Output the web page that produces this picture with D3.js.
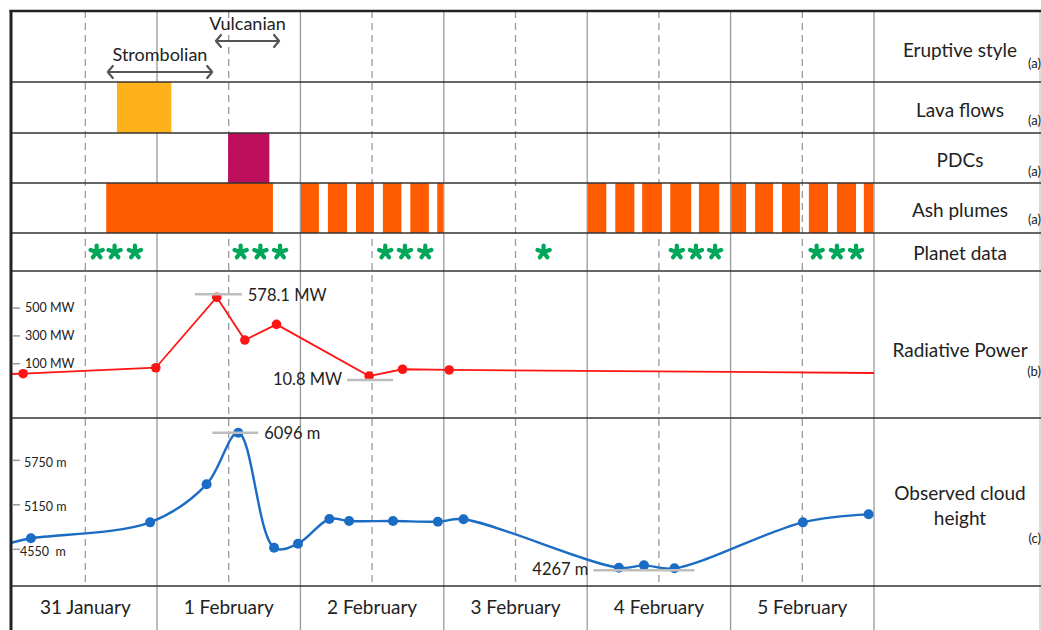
<!DOCTYPE html>
<html>
<head>
<meta charset="utf-8">
<script src="https://cdn.jsdelivr.net/npm/d3@7/dist/d3.min.js"></script>
<style>
  html, body { margin: 0; padding: 0; background: #fff; }
  svg { display: block; }
  text { font-family: Lato, "Open Sans", sans-serif; fill: #222; }
</style>
</head>
<body>
<svg id="chart" width="1041" height="630"></svg>
<script>
// ---- data (hours counted from 31 January 00:00) ----
const days = ["31 January", "1 February", "2 February", "3 February", "4 February", "5 February"];

const styleNames = ["Strombolian", "Vulcanian"];
const styleStart = [15.6, 33.7];
const styleEnd   = [33.4, 44.6];

const lavaStart = [17.3];
const lavaEnd   = [26.4];

const pdcStart = [35.9];
const pdcEnd   = [42.8];

const ashStart = [15.5, 48.1, 52.6, 57.3, 61.8, 66.4, 70.9, 96.1, 100.7, 105.2, 109.9, 114.7, 120.1, 124.1, 128.6, 133.1, 137.8, 142.3];
const ashEnd   = [43.4, 51.1, 55.8, 60.3, 64.9, 69.5, 71.9, 99.2, 103.9, 108.5, 113.4, 118.1, 122.6, 127.1, 131.6, 136.3, 141.0, 143.9];

const planetHours = [13.9, 16.9, 20.3, 38.0, 41.3, 44.6, 62.2, 65.5, 68.9, 88.7, 111.0, 114.2, 117.4, 134.4, 137.8, 141.0];

// Radiative power (MW); first and last entries only carry the trend line
const rpHours  = [-0.4, 1.6, 23.8, 34.0, 38.7, 44.0, 59.5, 65.1, 72.9, 144];
const rpValues = [26, 28, 71, 578.1, 270, 383, 10.8, 60, 55, 33];
const rpSample = [false, true, true, true, true, true, true, true, true, false];
const rpTicks  = [500, 300, 100];

// Observed cloud height (m); first entry only carries the trend line
const chHours  = [-0.4, 2.9, 22.85, 32.3, 37.6, 43.6, 47.6, 52.85, 56.15, 63.5, 71.0, 75.3, 101.3, 105.5, 110.6, 132.1, 143.1];
const chValues = [4612, 4672, 4887, 5400, 6096, 4545, 4599, 4932, 4905, 4905, 4896, 4928, 4275, 4307, 4267, 4887, 4995];
const chSample = [false, true, true, true, true, true, true, true, true, true, true, true, true, true, true, true, true];
const chTicks  = [5750, 5150, 4550];

const rowLabels = ["Eruptive style", "Lava flows", "PDCs", "Ash plumes", "Planet data", "Radiative Power", "Observed cloud|height"];
const rowRefs   = ["(a)", "(a)", "(a)", "(a)", "", "(b)", "(c)"];

// ---- layout ----
const W = 1041, H = 630;
const frameLeft = 11, frameTop = 11;
const plotRight = 874;
const rows = [11, 82, 133, 183, 233, 271, 418, 586]; // row boundaries
const svg = d3.select("#chart");

const x = d3.scaleLinear().domain([0, 144]).range([13.6, plotRight]);
const yRP = d3.scaleLinear().domain([0, 600]).range([377.6, 294.2]);
const yCH = d3.scaleLinear().domain([4000, 6200]).range([588.1, 425.0]);

const gray = "#9a9a9a";

// grid: day boundaries (solid) and noon (dashed)
const dayEdges = d3.range(1, 7).map(d => d * 24);
svg.append("g").selectAll("line").data(dayEdges).join("line")
  .attr("x1", d => x(d)).attr("x2", d => x(d))
  .attr("y1", frameTop).attr("y2", H)
  .attr("stroke", gray).attr("stroke-width", 1.3);

const noons = d3.range(0, 6).map(d => d * 24 + 12);
svg.append("g").selectAll("line").data(noons).join("line")
  .attr("x1", d => x(d)).attr("x2", d => x(d))
  .attr("y1", frameTop).attr("y2", rows[7])
  .attr("stroke", gray).attr("stroke-width", 1.3)
  .attr("stroke-dasharray", "7,5");

// right edge
svg.append("line").attr("x1", W - 1).attr("x2", W - 1).attr("y1", frameTop).attr("y2", H)
  .attr("stroke", "#bbb").attr("stroke-width", 1);

// ---- bars ----
function bars(starts, ends, y0, y1, color) {
  svg.append("g").selectAll("rect").data(starts).join("rect")
    .attr("x", (d) => x(d))
    .attr("width", (d, i) => x(ends[i]) - x(d))
    .attr("y", y0).attr("height", y1 - y0)
    .attr("fill", color);
}
bars(lavaStart, lavaEnd, rows[1], rows[2], "#fdb21c");
bars(pdcStart, pdcEnd, rows[2], rows[3], "#bd0f5b");
bars(ashStart, ashEnd, rows[3], rows[4], "#ff5b00");

// ---- eruptive style arrows ----
const arrowY = [72, 41];
const arrowLineColor = "#555";
styleNames.forEach((name, i) => {
  const a = x(styleStart[i]), b = x(styleEnd[i]), y = arrowY[i];
  const g = svg.append("g");
  g.append("line").attr("x1", a + 1).attr("x2", b - 1).attr("y1", y).attr("y2", y)
    .attr("stroke", arrowLineColor).attr("stroke-width", 2.2);
  const h = 6;
  g.append("path").attr("d", `M${a + h},${y - h} L${a + 1},${y} L${a + h},${y + h}`)
    .attr("fill", "none").attr("stroke", arrowLineColor).attr("stroke-width", 2.2)
    .attr("stroke-linecap", "round").attr("stroke-linejoin", "round");
  g.append("path").attr("d", `M${b - h},${y - h} L${b - 1},${y} L${b - h},${y + h}`)
    .attr("fill", "none").attr("stroke", arrowLineColor).attr("stroke-width", 2.2)
    .attr("stroke-linecap", "round").attr("stroke-linejoin", "round");
  g.append("text").attr("x", (a + b) / 2).attr("y", y - 11)
    .attr("text-anchor", "middle").attr("font-size", 18).attr("fill", "#333")
    .text(name);
});

// ---- planet data: five-armed asterisk per acquisition ----
const starArms = d3.range(5).map(k => -Math.PI / 2 + k * 2 * Math.PI / 5);
const starLen = 6.4;
const starPath = starArms.map(a => `M0,0 L${(starLen * Math.cos(a)).toFixed(2)},${(starLen * Math.sin(a)).toFixed(2)}`).join(" ");
svg.append("g").selectAll("path").data(planetHours).join("path")
  .attr("transform", d => `translate(${x(d)},252)`)
  .attr("d", starPath)
  .attr("fill", "none").attr("stroke", "#00a65a")
  .attr("stroke-width", 4.2).attr("stroke-linecap", "round");

// ---- radiative power ----
const rpData = rpHours.map((h, i) => ({ h, v: rpValues[i], s: rpSample[i] }));
svg.append("path").datum(rpData)
  .attr("fill", "none").attr("stroke", "#ff1414").attr("stroke-width", 1.8)
  .attr("d", d3.line().x(d => x(d.h)).y(d => yRP(d.v)));
svg.append("g").selectAll("circle").data(rpData.filter(d => d.s)).join("circle")
  .attr("cx", d => x(d.h)).attr("cy", d => yRP(d.v)).attr("r", 4.8)
  .attr("fill", "#ff1414");

const rpAxis = svg.append("g");
rpTicks.forEach(t => {
  rpAxis.append("line").attr("x1", 13).attr("x2", 20).attr("y1", yRP(t)).attr("y2", yRP(t))
    .attr("stroke", "#999").attr("stroke-width", 1.5);
  rpAxis.append("text").attr("x", 25).attr("y", yRP(t)).attr("dy", "0.35em")
    .attr("font-size", 12.5).attr("fill", "#333").text(t + " MW");
});

// ---- cloud height ----
const chData = chHours.map((h, i) => ({ h, v: chValues[i], s: chSample[i] }));
svg.append("path").datum(chData)
  .attr("fill", "none").attr("stroke", "#1a6cc4").attr("stroke-width", 2.4)
  .attr("d", d3.line().curve(d3.curveCatmullRom.alpha(0.5)).x(d => x(d.h)).y(d => yCH(d.v)));
svg.append("g").selectAll("circle").data(chData.filter(d => d.s)).join("circle")
  .attr("cx", d => x(d.h)).attr("cy", d => yCH(d.v)).attr("r", 5)
  .attr("fill", "#1a6cc4");

const chAxis = svg.append("g");
chTicks.forEach(t => {
  chAxis.append("line").attr("x1", 13).attr("x2", 20).attr("y1", yCH(t) + 2).attr("y2", yCH(t) + 2)
    .attr("stroke", "#999").attr("stroke-width", 1.5);
  chAxis.append("text").attr("x", t === 4550 ? 20 : 24).attr("y", yCH(t) + 4).attr("dy", "0.35em")
    .attr("font-size", 12.5).attr("fill", "#333").attr("xml:space", "preserve")
    .text(t === 4550 ? t + "  m" : t + " m");
});

// ---- annotated extremes ----
function annotate(h, v, yScale, unit, lineDx0, lineDx1, lineDy, side) {
  const px = x(h), py = yScale(v);
  svg.append("line").attr("x1", px + lineDx0).attr("x2", px + lineDx1)
    .attr("y1", py + lineDy).attr("y2", py + lineDy)
    .attr("stroke", "#bdbdbd").attr("stroke-width", 2.5);
  const t = svg.append("text").attr("font-size", 16.5).attr("fill", "#333")
    .attr("dy", "0.35em").text(v + " " + unit);
  if (side === "right") t.attr("x", px + lineDx1 + 6).attr("y", py + lineDy + 1);
  else t.attr("x", px + lineDx0 - 5).attr("y", py + lineDy - 1).attr("text-anchor", "end");
}
annotate(34.0, 578.1, yRP, "MW", -22, 25, -3, "right");
annotate(59.5, 10.8, yRP, "MW", -22, 24, 4, "left");
annotate(37.6, 6096, yCH, "m", -26, 20, 0, "right");
annotate(110.6, 4267, yCH, "m", -81, 20, 2, "left");

// ---- frame and row separators ----
svg.append("g").selectAll("line").data(rows.slice(1)).join("line")
  .attr("x1", frameLeft).attr("x2", W).attr("y1", d => d).attr("y2", d => d)
  .attr("stroke", "#333").attr("stroke-width", 1.6);
svg.append("line").attr("x1", frameLeft - 1.5).attr("x2", W).attr("y1", frameTop).attr("y2", frameTop)
  .attr("stroke", "#222").attr("stroke-width", 2.6);
svg.append("line").attr("x1", frameLeft).attr("x2", frameLeft).attr("y1", frameTop - 1).attr("y2", H)
  .attr("stroke", "#222").attr("stroke-width", 3);

// ---- day labels ----
svg.append("g").selectAll("text").data(days).join("text")
  .attr("x", (d, i) => x(i * 24 + 12)).attr("y", 614)
  .attr("text-anchor", "middle").attr("font-size", 19)
  .text(d => d);

// ---- row labels ----
const labelX = 960;
const labelY = [50, 110, 160, 210, 253, 350, 493];
const refY   = [63, 120, 171, 219, 0, 371, 538];
rowLabels.forEach((lab, i) => {
  const parts = lab.split("|");
  parts.forEach((p, k) => {
    svg.append("text").attr("x", labelX).attr("y", labelY[i] + k * 25).attr("dy", "0.35em")
      .attr("text-anchor", "middle").attr("font-size", 19).text(p);
  });
  if (rowRefs[i]) {
    svg.append("text").attr("x", 1041).attr("y", refY[i]).attr("dy", "0.35em")
      .attr("text-anchor", "end").attr("font-size", 13).text(rowRefs[i]);
  }
});
</script>
</body>
</html>
